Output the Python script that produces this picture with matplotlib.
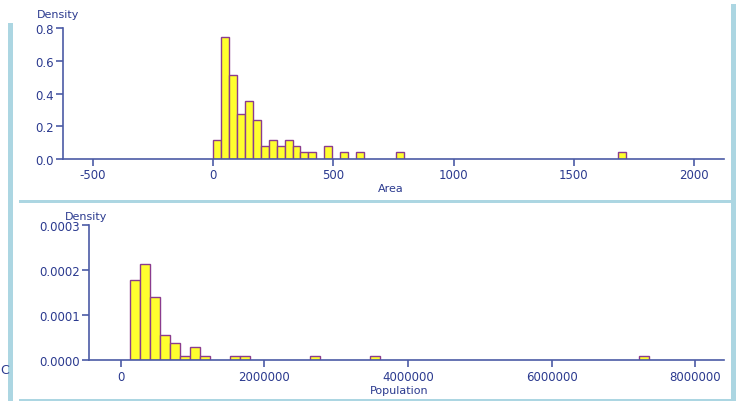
import matplotlib
matplotlib.use('Agg')
import matplotlib.pyplot as plt
from matplotlib.patches import Rectangle

# Area histogram (bin left edges, bin width 33, density per bin)
area_left = [0, 33, 66, 99, 132, 165, 198, 231, 264, 297, 330, 363, 396,
             462, 528, 594, 759, 1683]
area_density = [0.117, 0.745, 0.511, 0.276, 0.356, 0.237, 0.078, 0.117,
                0.078, 0.117, 0.078, 0.039, 0.039, 0.078, 0.039, 0.039,
                0.039, 0.039]
area_width = 33
area_xticks = [-500, 0, 500, 1000, 1500, 2000]
area_yticks = [0.0, 0.2, 0.4, 0.6, 0.8]

# Population histogram (bin left edges, bin width 139000)
pop_left = [130000, 269000, 408000, 547000, 686000, 825000, 964000, 1103000,
            1520000, 1659000, 2632000, 3466000, 7219000]
pop_density = [0.000177, 0.000213, 0.000139, 0.0000558, 0.0000372,
               0.0000093, 0.0000279, 0.0000093, 0.0000093, 0.0000093,
               0.0000093, 0.0000093, 0.0000093]
pop_width = 139000
pop_xticks = [0, 2000000, 4000000, 6000000, 8000000]
pop_yticks = [0.0, 0.0001, 0.0002, 0.0003]

navy = '#2b3a8f'
axcol = '#4b5ba6'
fill = '#ffff2e'
edge = '#8a3c8e'
frame = '#acd6e2'

fig = plt.figure(figsize=(7.36, 4.02), dpi=100)

# light blue frame lines
fig.add_artist(Rectangle((8 / 736, 0), 5 / 736, 1 - 24 / 402,
                         transform=fig.transFigure, color=frame, lw=0))
fig.add_artist(Rectangle((731 / 736, 0), 5 / 736, 1 - 5 / 402,
                         transform=fig.transFigure, color=frame, lw=0))
fig.add_artist(Rectangle((19 / 736, 1 - 204 / 402), 714 / 736, 3 / 402,
                         transform=fig.transFigure, color=frame, lw=0))
fig.add_artist(Rectangle((19 / 736, 0), 714 / 736, 2.5 / 402,
                         transform=fig.transFigure, color=frame, lw=0))

# caption cut off at the very top (only the lower part shows)
fig.text(0.5, 1.0 + 10 / 402, 'Histograms of Area (top) and Population (bottom)',
         ha='center', va='center', fontsize=15, family='Liberation Serif',
         color='black')
fig.text(0, 1 - 371 / 402, 'C', ha='left', va='center', fontsize=9,
         color=navy)


def style(ax, xticks, yticks, xlim, ylim, yfmt, xlabel):
    ax.set_xlim(xlim)
    ax.set_ylim(ylim)
    for s in ['top', 'right']:
        ax.spines[s].set_visible(False)
    for s in ['left', 'bottom']:
        ax.spines[s].set_color(axcol)
        ax.spines[s].set_linewidth(1.2)
    ax.set_xticks(xticks)
    ax.set_xticklabels([str(t) for t in xticks])
    ax.set_yticks(yticks)
    ax.set_yticklabels([yfmt.format(t) for t in yticks])
    ax.tick_params(direction='out', length=5, width=1.2, color=axcol,
                   labelcolor=navy, labelsize=8.5, pad=2)
    ax.set_xlabel(xlabel, color=navy, fontsize=8)
    ax.patch.set_alpha(0)


# top: Area
ax1 = fig.add_axes([63.3 / 736, 1 - 159.7 / 402, 661 / 736, 130.4 / 402])
ax1.bar(area_left, area_density, width=area_width, align='edge',
        color=fill, edgecolor=edge, linewidth=1.0)
style(ax1, area_xticks, area_yticks, (-624, 2127), (0, 0.8), '{:.1f}', 'Area')
ax1.xaxis.set_label_coords((378 - 63.3) / 661, -(189 - 159.7) / 130.4)
ax1.xaxis.label.set_ha('left')
ax1.xaxis.label.set_va('center')
fig.text(37 / 736, 1 - 15 / 402, 'Density', ha='left', va='center',
         fontsize=8, color=navy)

# bottom: Population
ax2 = fig.add_axes([89.3 / 736, 1 - 361 / 402, 634.7 / 736, 135.3 / 402])
ax2.bar(pop_left, pop_density, width=pop_width, align='edge',
        color=fill, edgecolor=edge, linewidth=1.0)
style(ax2, pop_xticks, pop_yticks, (-437000, 8400000), (0, 0.0003),
      '{:.4f}', 'Population')
ax2.xaxis.set_label_coords((370 - 89.3) / 634.7, -(391 - 361) / 135.3)
ax2.xaxis.label.set_ha('left')
ax2.xaxis.label.set_va('center')
fig.text(65 / 736, 1 - 217 / 402, 'Density', ha='left', va='center',
         fontsize=8, color=navy)

fig.savefig('out.png', dpi=100)
